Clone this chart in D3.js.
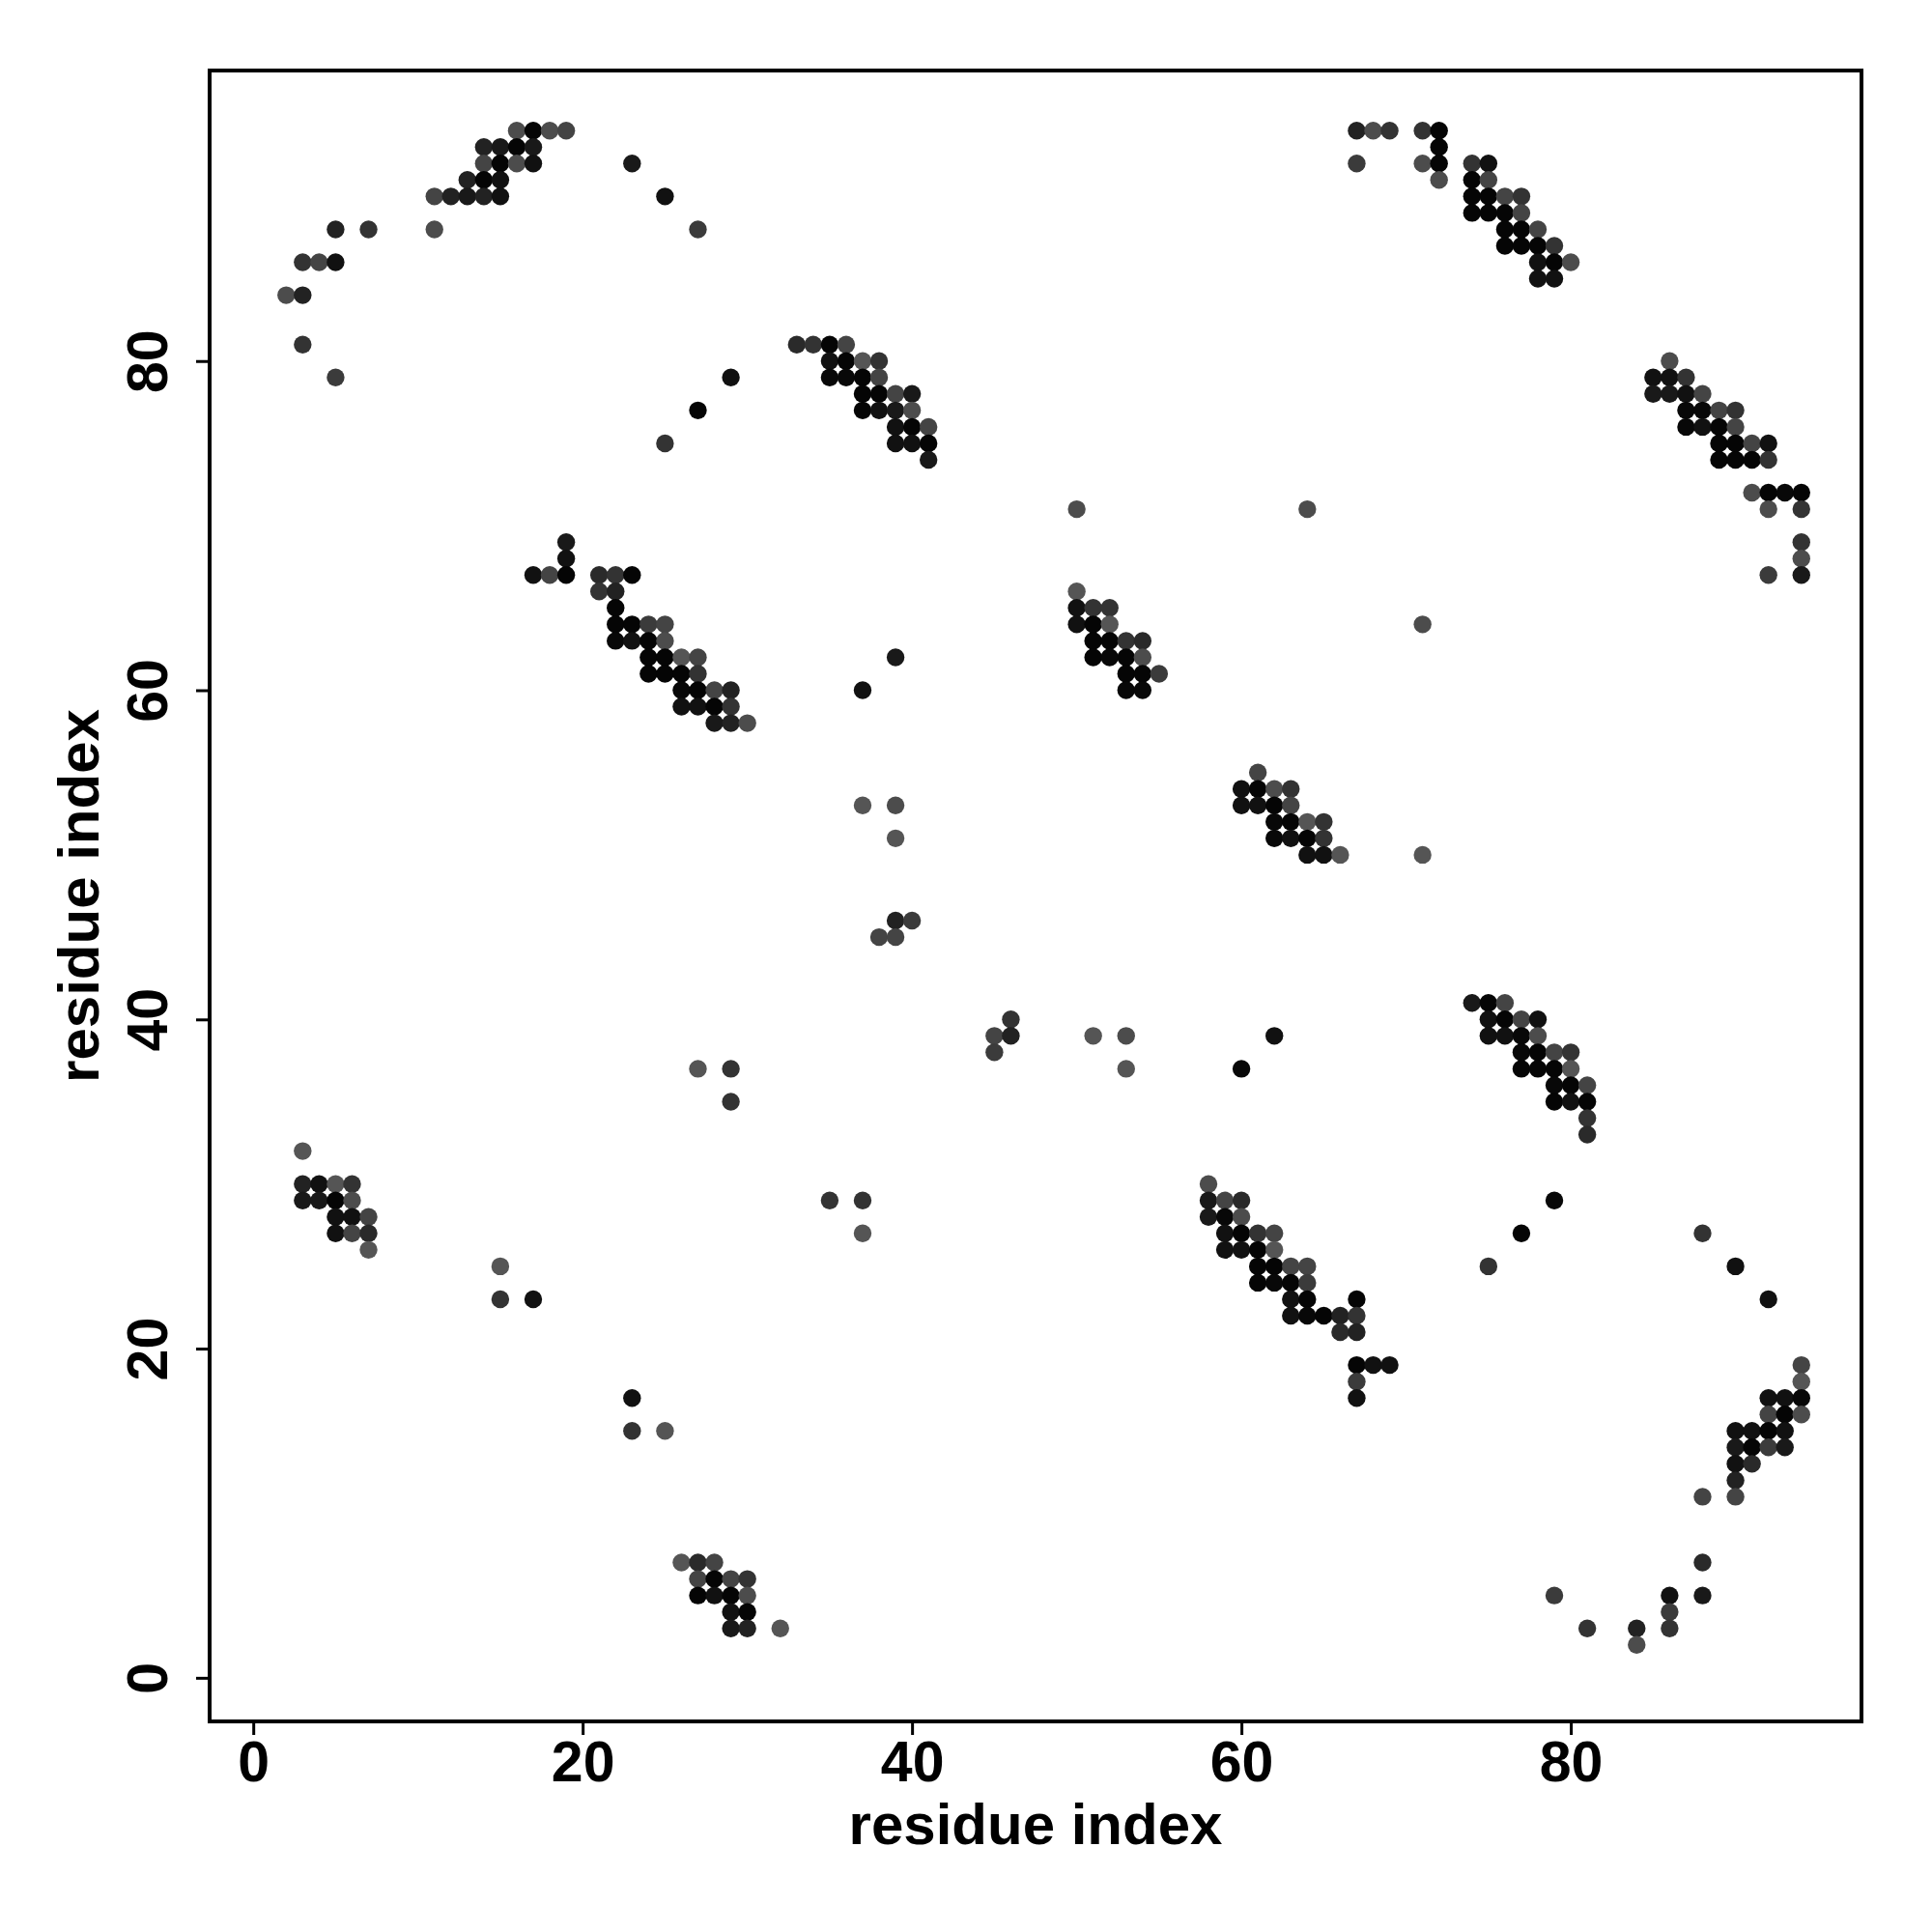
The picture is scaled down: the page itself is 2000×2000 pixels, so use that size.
<!DOCTYPE html>
<html>
<head>
<meta charset="utf-8">
<script src="https://cdn.jsdelivr.net/npm/d3@7"></script>
<style>
  html, body { margin: 0; padding: 0; background: #ffffff; }
  svg { display: block; }
</style>
</head>
<body>
<svg id="chart" width="2000" height="2000"></svg>
<script>
// Contact map data: [residue i, residue j, contact probability]
const contactsTopLeft = [
  [16,94,.55],[17,94,.97],[18,94,.55],[19,94,.6],
  [14,93,.8],[15,93,.85],[16,93,.97],[17,93,.85],
  [14,92,.6],[15,92,.97],[16,92,.55],[17,92,.9],
  [13,91,.8],[14,91,.97],[15,91,.9],
  [11,90,.6],[12,90,.8],[13,90,.85],[14,90,.8],[15,90,.9],
  [5,88,.8],[7,88,.7],[11,88,.55],
  [3,86,.7],[4,86,.6],[5,86,.9],
  [2,84,.55],[3,84,.8],
  [3,81,.7],
  [5,79,.65]
];
const contactsTopMiddle = [
  [23,92,.85],[25,90,.9],[27,88,.65],
  [33,81,.75],[34,81,.7],[35,81,.97],[36,81,.6],
  [35,80,.9],[36,80,.97],[37,80,.5],[38,80,.7],
  [29,79,.9],[35,79,.95],[36,79,.95],[37,79,.97],[38,79,.6],
  [37,78,.97],[38,78,.97],[39,78,.6],[40,78,.85],
  [27,77,.97],[37,77,.97],[38,77,.9],[39,77,.85],[40,77,.55],
  [39,76,.9],[40,76,.97],[41,76,.6],
  [25,75,.7],[39,75,.9],[40,75,.9],[41,75,.97],
  [41,74,.85]
];
const contactsTopRight = [
  [67,94,.8],[68,94,.55],[69,94,.7],[71,94,.7],[72,94,.97],
  [72,93,.97],
  [67,92,.65],[71,92,.55],[72,92,.97],[74,92,.7],[75,92,.9],
  [72,91,.55],[74,91,.97],[75,91,.6],
  [74,90,.97],[75,90,.97],[76,90,.6],[77,90,.7],
  [74,89,.97],[75,89,.97],[76,89,.97],[77,89,.6],
  [76,88,.97],[77,88,.97],[78,88,.6],
  [76,87,.97],[77,87,.97],[78,87,.97],[79,87,.7],
  [78,86,.9],[79,86,.97],[80,86,.55],
  [78,85,.9],[79,85,.9]
];
const contactsRight = [
  [86,80,.55],
  [85,79,.9],[86,79,.9],[87,79,.7],
  [85,78,.85],[86,78,.85],[87,78,.9],[88,78,.6],
  [87,77,.95],[88,77,.95],[89,77,.6],[90,77,.7],
  [87,76,.95],[88,76,.9],[89,76,.97],[90,76,.6],
  [89,75,.97],[90,75,.97],[91,75,.6],[92,75,.9],
  [89,74,.97],[90,74,.97],[91,74,.97],[92,74,.7],
  [91,72,.55],[92,72,.97],[93,72,.95],[94,72,.97],
  [92,71,.55],[94,71,.7],
  [94,69,.7],
  [94,68,.55],
  [92,67,.65],[94,67,.85]
];
const contactsMiddleLeft = [
  [19,69,.85],[19,68,.9],
  [17,67,.9],[18,67,.6],[19,67,.97],[21,67,.75],[22,67,.7],[23,67,.97],
  [21,66,.7],[22,66,.8],
  [22,65,.97],
  [22,64,.97],[23,64,.97],[24,64,.65],[25,64,.6],
  [22,63,.95],[23,63,.9],[24,63,.97],[25,63,.55],
  [24,62,.97],[25,62,.97],[26,62,.5],[27,62,.6],
  [24,61,.97],[25,61,.97],[26,61,.97],[27,61,.7],
  [26,60,.95],[27,60,.97],[28,60,.6],[29,60,.8],
  [26,59,.9],[27,59,.9],[28,59,.97],[29,59,.7],
  [28,58,.85],[29,58,.8],[30,58,.55],
  [39,62,.85],[37,60,.9]
];
const contactsCenter = [
  [50,71,.55],[64,71,.55],[71,64,.55],
  [50,66,.5],
  [50,65,.9],[51,65,.7],[52,65,.7],
  [50,64,.9],[51,64,.97],[52,64,.5],
  [51,63,.97],[52,63,.97],[53,63,.7],[54,63,.75],
  [51,62,.97],[52,62,.95],[53,62,.97],[54,62,.55],
  [53,61,.97],[54,61,.97],[55,61,.65],
  [53,60,.95],[54,60,.95],
  [61,55,.6],
  [60,54,.9],[61,54,.97],[62,54,.55],[63,54,.7],
  [60,53,.9],[61,53,.9],[62,53,.97],[63,53,.6],
  [62,52,.95],[63,52,.97],[64,52,.5],[65,52,.7],
  [62,51,.95],[63,51,.9],[64,51,.97],[65,51,.7],
  [64,50,.9],[65,50,.9],[66,50,.5],
  [71,50,.5]
];
const contactsMiddleRight = [
  [74,41,.85],[75,41,.97],[76,41,.6],
  [75,40,.9],[76,40,.97],[77,40,.6],[78,40,.9],
  [75,39,.9],[76,39,.9],[77,39,.95],[78,39,.55],
  [77,38,.95],[78,38,.97],[79,38,.6],[80,38,.7],
  [77,37,.97],[78,37,.97],[79,37,.97],[80,37,.5],
  [79,36,.95],[80,36,.97],[81,36,.6],
  [79,35,.97],[80,35,.9],[81,35,.97],
  [81,34,.7],[81,33,.75],
  [46,40,.7],[45,39,.6],[46,39,.8],[45,38,.65],
  [51,39,.5],[53,39,.55],[53,37,.5],[62,39,.9],[60,37,.95]
];
const contactsScattered = [
  [37,53,.5],[39,53,.55],[39,51,.5],
  [39,46,.8],[40,46,.65],[38,45,.6],[39,45,.6],
  [27,37,.5],[29,37,.7],[29,35,.7],
  [35,29,.7],[37,29,.7],[37,27,.5]
];
const contactsLowerMiddle = [
  [58,30,.55],
  [58,29,.85],[59,29,.6],[60,29,.75],
  [58,28,.85],[59,28,.95],[60,28,.55],
  [59,27,.9],[60,27,.97],[61,27,.7],[62,27,.6],
  [59,26,.9],[60,26,.9],[61,26,.97],[62,26,.5],
  [61,25,.97],[62,25,.97],[63,25,.6],[64,25,.6],
  [61,24,.97],[62,24,.95],[63,24,.97],[64,24,.65],
  [63,23,.9],[64,23,.97],[67,23,.97],
  [63,22,.9],[64,22,.95],[65,22,.97],[66,22,.8],[67,22,.7],
  [66,21,.75],[67,21,.8],
  [67,19,.97],[68,19,.9],[69,19,.9],
  [67,18,.65],
  [67,17,.9]
];
const contactsBottomRight = [
  [79,29,.95],[77,27,.97],[88,27,.7],[75,25,.7],[90,25,.9],[92,23,.9],
  [94,19,.6],[94,18,.5],
  [92,17,.9],[93,17,.9],[94,17,.95],
  [92,16,.6],[93,16,.97],[94,16,.55],
  [90,15,.9],[91,15,.9],[92,15,.97],[93,15,.9],
  [90,14,.85],[91,14,.97],[92,14,.65],[93,14,.85],
  [90,13,.9],[91,13,.75],
  [90,12,.8],
  [88,11,.6],[90,11,.6],
  [88,7,.75],
  [79,5,.65],[86,5,.9],[88,5,.85],
  [86,4,.65],
  [81,3,.7],[84,3,.8],[86,3,.7],
  [84,2,.55]
];
const contactsBottomLeft = [
  [3,32,.5],
  [3,30,.8],[4,30,.9],[5,30,.5],[6,30,.7],
  [3,29,.85],[4,29,.85],[5,29,.97],[6,29,.55],
  [5,28,.9],[6,28,.9],[7,28,.6],
  [5,27,.9],[6,27,.6],[7,27,.75],
  [7,26,.5],
  [15,25,.5],[15,23,.7],[17,23,.9],
  [23,17,.9],[23,15,.7],[25,15,.5],
  [26,7,.5],[27,7,.75],[28,7,.6],
  [27,6,.6],[28,6,.97],[29,6,.6],[30,6,.7],
  [27,5,.97],[28,5,.9],[29,5,.97],[30,5,.55],
  [29,4,.9],[30,4,.97],
  [29,3,.85],[30,3,.8],[32,3,.5]
];
const tickValues = [0, 20, 40, 60, 80];
const xLabel = "residue index";
const yLabel = "residue index";

(function () {
  const contacts = [].concat(contactsTopLeft, contactsTopMiddle, contactsTopRight,
    contactsRight, contactsMiddleLeft, contactsCenter, contactsMiddleRight,
    contactsScattered, contactsLowerMiddle, contactsBottomRight, contactsBottomLeft)
    .map(d => ({i: d[0], j: d[1], p: d[2]}));

  // Layout
  const mLeft = 217, mRight = 1927, mTop = 73, mBottom = 1782;
  const svg = d3.select("#chart");
  const font = "'Liberation Sans', Arial, Helvetica, sans-serif";

  const x = d3.scaleLinear().domain([-2.65, 97.65]).range([mLeft, mRight]);
  const y = d3.scaleLinear().domain([-2.65, 97.65]).range([mBottom, mTop]);
  const shade = d3.scaleLinear().domain([0.5, 0.97]).range(["#555555", "#050505"]).clamp(true);

  // Points
  svg.append("g")
    .selectAll("circle")
    .data(contacts)
    .join("circle")
    .attr("cx", d => x(d.i))
    .attr("cy", d => y(d.j))
    .attr("r", 9.2)
    .attr("fill", d => shade(d.p));

  // Frame
  svg.append("rect")
    .attr("x", mLeft).attr("y", mTop)
    .attr("width", mRight - mLeft).attr("height", mBottom - mTop)
    .attr("fill", "none").attr("stroke", "#000").attr("stroke-width", 4);

  // X axis
  const xAxis = d3.axisBottom(x).tickValues(tickValues).tickSize(14).tickPadding(6);
  const gx = svg.append("g").attr("transform", `translate(0,${mBottom})`).call(xAxis);
  gx.select(".domain").remove();
  gx.selectAll(".tick line").attr("stroke", "#000").attr("stroke-width", 3);
  gx.selectAll(".tick text")
    .attr("font-family", font).attr("font-weight", "bold")
    .attr("font-size", 59).attr("fill", "#000");

  // Y axis
  const yAxis = d3.axisLeft(y).tickValues(tickValues).tickSize(14).tickPadding(6);
  const gy = svg.append("g").attr("transform", `translate(${mLeft},0)`).call(yAxis);
  gy.select(".domain").remove();
  gy.selectAll(".tick line").attr("stroke", "#000").attr("stroke-width", 3);
  gy.selectAll(".tick text")
    .attr("font-family", font).attr("font-weight", "bold")
    .attr("font-size", 59).attr("fill", "#000")
    .attr("text-anchor", "middle")
    .attr("dy", 0)
    .attr("x", 0).attr("y", 0)
    .attr("transform", "translate(-44,0) rotate(-90)");

  // Axis titles
  svg.append("text")
    .attr("x", (mLeft + mRight) / 2).attr("y", 1909)
    .attr("text-anchor", "middle")
    .attr("font-family", font).attr("font-weight", "bold")
    .attr("font-size", 60).attr("fill", "#000")
    .text(xLabel);

  svg.append("text")
    .attr("transform", `translate(102,${(mTop + mBottom) / 2}) rotate(-90)`)
    .attr("text-anchor", "middle")
    .attr("font-family", font).attr("font-weight", "bold")
    .attr("font-size", 60).attr("fill", "#000")
    .text(yLabel);
})();
</script>
</body>
</html>
